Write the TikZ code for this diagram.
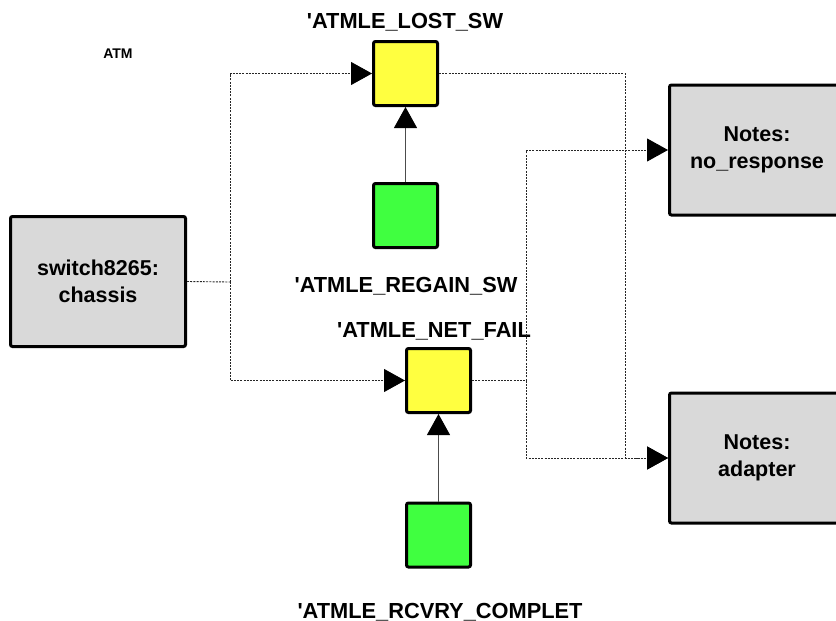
\documentclass[tikz,border=0pt]{standalone}
\usepackage{fontspec}
\setmainfont{Liberation Sans}[Ligatures=TeXOff]
\usetikzlibrary{arrows.meta}
\definecolor{ybox}{HTML}{FFFF40}
\definecolor{gbox}{HTML}{40FF40}
\definecolor{nbox}{HTML}{D9D9D9}
\tikzset{
  sq/.style={draw=black, line width=3pt, rounded corners=2pt, minimum width=64pt, minimum height=64pt, inner sep=0pt},
  ysq/.style={sq, fill=ybox},
  gsq/.style={sq, fill=gbox},
  bigbox/.style={draw=black, line width=3pt, rounded corners=2pt, fill=nbox, minimum width=175pt, minimum height=130pt, align=center, inner sep=0pt, font=\fontsize{21.5}{27}\selectfont\bfseries},
  lbl/.style={anchor=base, inner sep=0pt, font=\fontsize{21.8}{26}\selectfont\bfseries},
  dotline/.style={draw=black!85, line width=0.9pt, dash pattern=on 2pt off 1.2pt},
  tip/.style={-{Triangle[length=21pt,width=23pt,color=black]}},
  solidline/.style={draw=black!70, line width=1pt}
}
\begin{document}
\begin{tikzpicture}[x=1pt,y=-1pt]
\useasboundingbox (0,0) rectangle (836,621);
% boxes
\node[bigbox] (chassis) at (98,281.5) {switch8265:\\chassis};
\node[ysq] (y1) at (405.5,73.5) {};
\node[gsq] (g1) at (405.5,215.5) {};
\node[ysq] (y2) at (438.5,380.5) {};
\node[gsq] (g2) at (438.5,535) {};
\node[bigbox] (n1) at (757,150) {Notes:\\no\_response};
\node[bigbox] (n2) at (757,458) {Notes:\\adapter};
% labels
\node[anchor=base, inner sep=0pt, font=\fontsize{14}{16}\selectfont\bfseries] (atm) at (118,58) {ATM};
\node[lbl] (l1) at (405,28) {'ATMLE\_LOST\_SW};
\node[lbl] (l2) at (406,292) {'ATMLE\_REGAIN\_SW};
\node[lbl] (l3) at (434,337) {'ATMLE\_NET\_FAIL};
\node[lbl] (l4) at (440,618) {'ATMLE\_RCVRY\_COMPLET};
% junctions
\coordinate (j1) at (230,282);
\coordinate (j2) at (625,458);
\coordinate (j3) at (526,380.5);
% dotted connectors
\draw[dotline] (chassis.east) -- (j1);
\draw[dotline, tip] (j1) |- (y1.west);
\draw[dotline, tip] (j1) |- (y2.west);
\draw[dotline] (y1.east) -| (j2);
\draw[dotline] (y2.east) -- (j3);
\draw[dotline, tip] (j3) |- (n1.west);
\draw[dotline, tip] (j3) |- (n2.west);
\draw[dotline, tip] (j2) -- (n2.west);
% solid connectors
\draw[solidline, tip] (g1.north) -- (y1.south);
\draw[solidline, tip] (g2.north) -- (y2.south);
\end{tikzpicture}
\end{document}
